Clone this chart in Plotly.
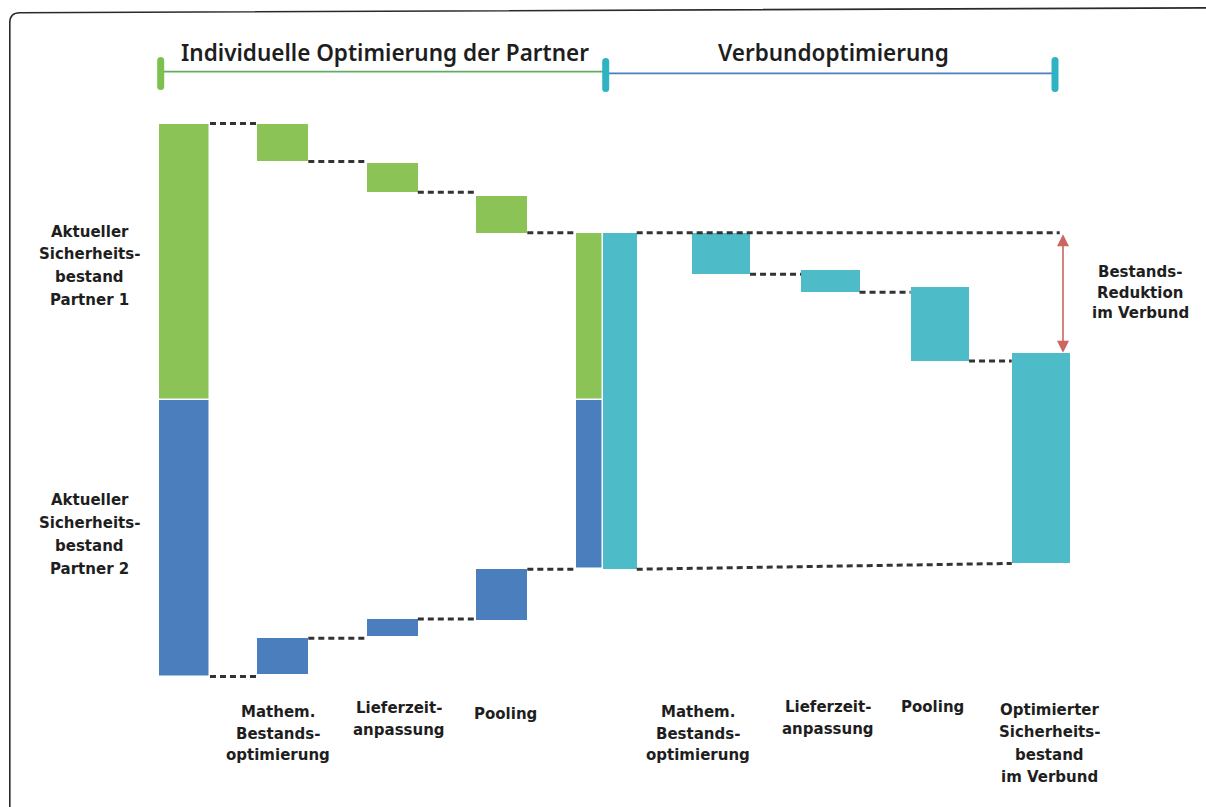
import plotly.graph_objects as go

W, H = 1206, 807

# ---------------- data (stock units) ----------------
stock_p2 = 100.0                      # Aktueller Sicherheitsbestand Partner 2
stock_p1 = 100.0                      # Aktueller Sicherheitsbestand Partner 1
step_labels = [["Mathem.", "Bestands-", "optimierung"],
               ["Lieferzeit-", "anpassung"],
               ["Pooling"]]
p1_top = [200.0, 185.6, 173.8]        # individual steps partner 1 (upper part)
p1_bottom = [186.3, 175.1, 160.5]
p2_bottom = [0.8, 14.6, 20.4]         # individual steps partner 2 (lower part)
p2_top = [13.8, 20.8, 38.8]
p1_rest = [100.0, 160.5]              # partner 1 after individual optimisation
p2_rest = [38.8, 100.0]               # partner 2 after individual optimisation
ver_top = [160.5, 147.1, 140.8]       # Verbund steps
ver_bottom = [145.5, 139.0, 114.1]
opt_range = [40.9, 117.1]             # Optimierter Sicherheitsbestand im Verbund
p1_label = ["Aktueller", "Sicherheits-", "bestand", "Partner 1"]
p2_label = ["Aktueller", "Sicherheits-", "bestand", "Partner 2"]
final_label = ["Optimierter", "Sicherheits-", "bestand", "im Verbund"]
reduction_label = ["Bestands-", "Reduktion", "im Verbund"]
phase_labels = ["Individuelle Optimierung der Partner", "Verbundoptimierung"]

# ---------------- layout constants ----------------
GREEN = "#8BC356"
BLUE = "#4A7EBD"
TEAL = "#4DBBC8"
DASH = "#333333"
RED = "#CC6660"
TXT = "#1e1e1e"

x_start, w_start = 0.1, 0.47
x_ind, w_ind = [1, 2, 3], 0.466
x_ci, w_ci = 3.803, 0.25
x_cv, w_cv = 4.077, 0.31
x_ver, w_ver = [5, 6, 7], 0.534
x_opt, w_opt = 7.924, 0.534
x_arrow = 8.125

X0, XS = 282.8, 109.5
xr = [1 - X0 / XS, 1 + (W - X0) / XS]
Y0, YS = 676.5, 2.765
yr = [(Y0 - H) / YS, Y0 / YS]


def pp(px, py):
    return px / W, 1 - py / H


def bar(xs, bases, tops, width, color, line=0):
    return go.Bar(x=xs, base=bases, y=[t - b for t, b in zip(tops, bases)],
                  width=width, marker=dict(color=color, line=dict(color="white", width=line)),
                  hoverinfo="skip", showlegend=False)


fig = go.Figure()
# start bars
fig.add_trace(bar([x_start], [0], [stock_p2], [w_start], BLUE, 1.5))
fig.add_trace(bar([x_start], [stock_p2], [stock_p2 + stock_p1], [w_start], GREEN, 1.5))
# individual steps
fig.add_trace(bar(x_ind, p1_bottom, p1_top, [w_ind] * 3, GREEN))
fig.add_trace(bar(x_ind, p2_bottom, p2_top, [w_ind] * 3, BLUE))
# after individual optimisation
fig.add_trace(bar([x_ci], [p2_rest[0]], [p2_rest[1]], [w_ci], BLUE, 1.5))
fig.add_trace(bar([x_ci], [p1_rest[0]], [p1_rest[1]], [w_ci], GREEN, 1.5))
fig.add_trace(bar([x_cv], [p2_rest[0]], [p1_rest[1]], [w_cv], TEAL))
# Verbund steps
fig.add_trace(bar(x_ver, ver_bottom, ver_top, [w_ver] * 3, TEAL))
fig.add_trace(bar([x_opt], [opt_range[0]], [opt_range[1]], [w_opt], TEAL))

# connectors
def connectors(segs):
    xs, ys = [], []
    for xa, xb, ya, yb in segs:
        xs += [xa, xb, None]
        ys += [ya, yb, None]
    fig.add_trace(go.Scatter(x=xs, y=ys, mode="lines",
                             line=dict(color=DASH, width=3, dash="6px,4px"),
                             hoverinfo="skip", showlegend=False))

g_lvls = [stock_p2 + stock_p1] + p1_bottom
b_lvls = [0.0] + p2_top
left_x = [x_start + w_start / 2] + [x + w_ind / 2 for x in x_ind]
right_x = [x - w_ind / 2 for x in x_ind] + [x_ci - w_ci / 2]
segs = []
for i in range(4):
    segs.append((left_x[i], right_x[i], g_lvls[i], g_lvls[i]))
    segs.append((left_x[i], right_x[i], b_lvls[i], b_lvls[i]))
# Verbund
segs.append((x_cv + w_cv / 2, x_arrow - 0.03, ver_top[0], ver_top[0]))
vl = [x + w_ver / 2 for x in x_ver]
vr = [x - w_ver / 2 for x in x_ver[1:]] + [x_opt - w_opt / 2]
for i in range(3):
    segs.append((vl[i], vr[i], ver_bottom[i], ver_bottom[i]))
segs.append((x_cv + w_cv / 2, x_opt - w_opt / 2, p2_rest[0], opt_range[0]))
connectors(segs)

annotations = []
# arrow
annotations.append(dict(x=x_arrow, y=opt_range[1], ax=x_arrow, ay=p1_rest[1],
                        xref="x", yref="y", axref="x", ayref="y", text="",
                        showarrow=True, arrowhead=2, arrowside="end+start",
                        arrowsize=1.5, arrowwidth=1.6, arrowcolor=RED,
                        startarrowhead=2, startarrowsize=1.5))


def multiline(lines, x, y0, spacing, xref="x", xshift=0, size=15):
    for i, l in enumerate(lines):
        annotations.append(dict(x=x, y=1 - (y0 + i * spacing) / H, xref=xref, yref="paper",
                                text=f"<b>{l}</b>", showarrow=False, xanchor="center",
                                yanchor="middle", xshift=xshift,
                                font=dict(family="DejaVu Sans", size=size, color=TXT)))


left_shift = [-5, 7, 4]
left_y = [711.7, 708, 714]
right_shift = [-23, -2, -7]
right_y = [711.7, 706.7, 706.7]
for i in range(3):
    multiline(step_labels[i], x_ind[i], left_y[i], 21.8, xshift=left_shift[i])
    multiline(step_labels[i], x_ver[i], right_y[i], 21.8, xshift=right_shift[i])
multiline(final_label, x_opt, 710, 22.3, xshift=9)
multiline(p1_label, 90 / W, 231.5, 22.7, xref="paper")
multiline(p2_label, 90 / W, 500, 23, xref="paper")
multiline(reduction_label, 1140 / W, 271.7, 20.8, xref="paper")

# phase header texts
for txt, cx in zip(phase_labels, [385, 833]):
    annotations.append(dict(x=cx / W, y=1 - 53 / H, xref="paper", yref="paper", text=txt,
                            showarrow=False, xanchor="center", yanchor="middle",
                            font=dict(family="Noto Sans", size=22.5, color=TXT, weight=600)))

shapes = []
# header lines
for (xa, xb, yy, col) in [(160.7, 605.7, 71.7, "#5FAE5F"), (605.7, 1055, 73.3, "#4A7EBD")]:
    a = pp(xa, yy); b = pp(xb, yy)
    shapes.append(dict(type="line", xref="paper", yref="paper", x0=a[0], y0=a[1], x1=b[0], y1=b[1],
                       line=dict(color=col, width=1.8)))


def cap(cx, ya, yb, col):
    w = 3.5
    x1, x2 = (cx - w) / W, (cx + w) / W
    t, b = 1 - ya / H, 1 - yb / H
    r = 3.5 / H
    path = (f"M {x1} {t - r} Q {x1} {t} {cx / W} {t} Q {x2} {t} {x2} {t - r} "
            f"L {x2} {b + r} Q {x2} {b} {cx / W} {b} Q {x1} {b} {x1} {b + r} Z")
    shapes.append(dict(type="path", xref="paper", yref="paper", path=path,
                       fillcolor=col, line=dict(width=0)))


cap(160.7, 57, 90, "#7CC04E")
cap(605.7, 58, 92, "#2FB3C2")
cap(1055, 57, 92, "#2FB3C2")

# frame
fx, fy0, fy1 = 9.8 / W, 1 - 12.7 / H, 1 - 7.8 / H
rx, ry = 10 / W, 10 / H
frame = (f"M {fx} -0.01 L {fx} {fy0 - ry} Q {fx} {fy0} {fx + rx} {fy0} L 1.01 {fy1}")
shapes.append(dict(type="path", xref="paper", yref="paper", path=frame,
                   line=dict(color="#2a2a2a", width=1.6)))

fig.update_layout(
    width=W, height=H, margin=dict(l=0, r=0, t=0, b=0),
    paper_bgcolor="white", plot_bgcolor="white",
    barmode="overlay", bargap=0,
    xaxis=dict(range=xr, visible=False, fixedrange=True),
    yaxis=dict(range=yr, visible=False, fixedrange=True),
    annotations=annotations, shapes=shapes, showlegend=False,
)

fig.write_html("out.html")
